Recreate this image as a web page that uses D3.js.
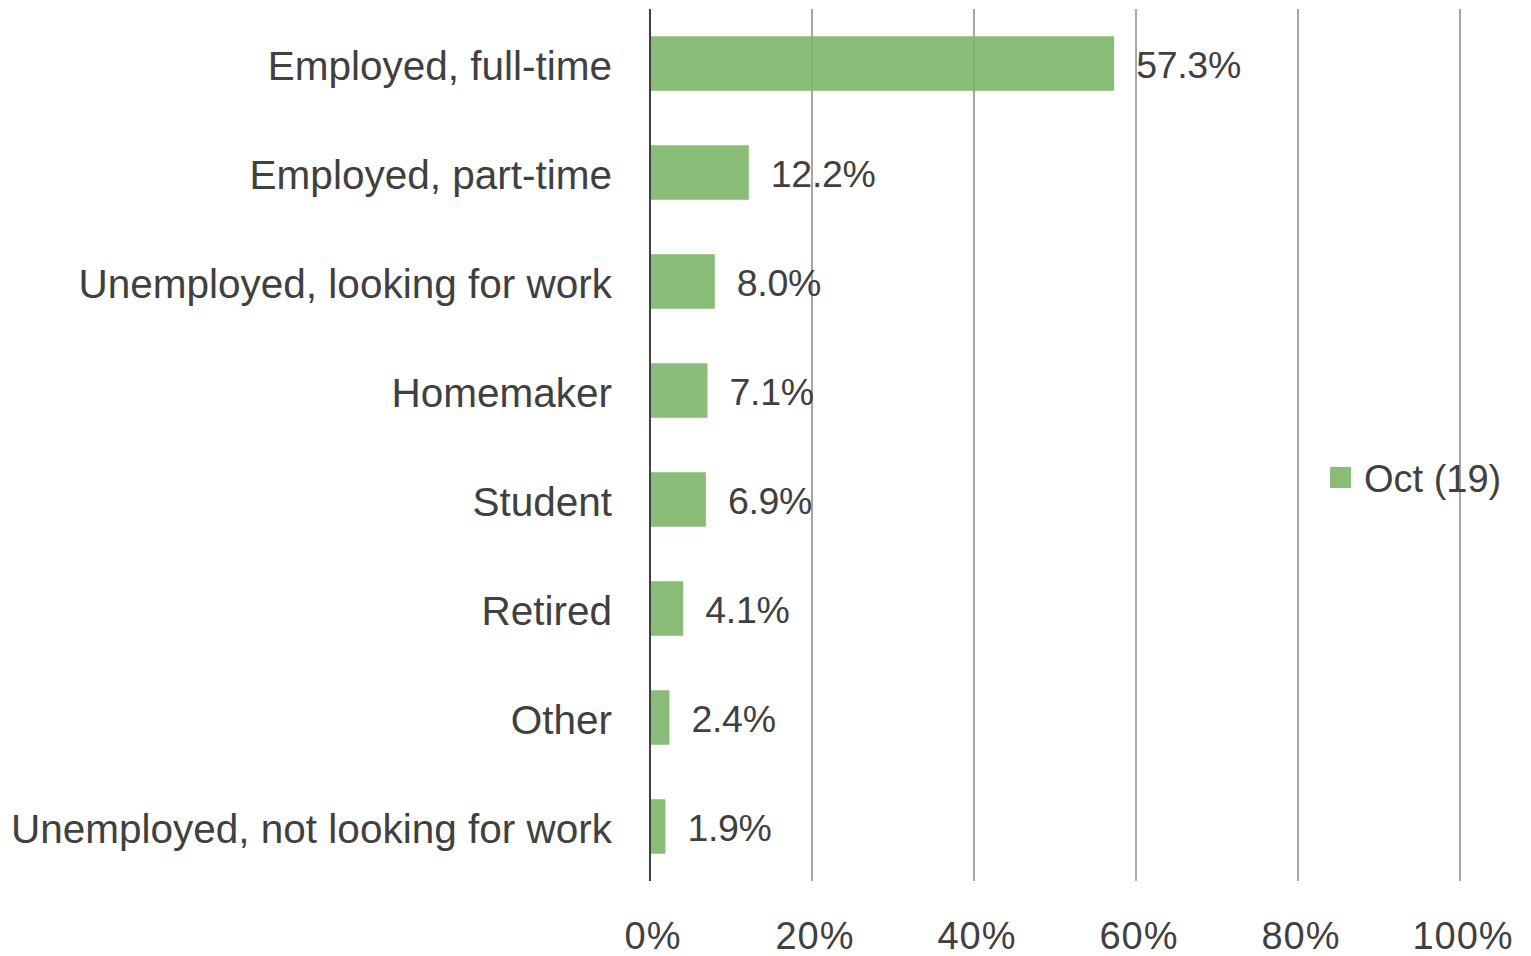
<!DOCTYPE html>
<html>
<head>
<meta charset="utf-8">
<script src="https://cdn.jsdelivr.net/npm/d3@7"></script>
<style>
  body { margin: 0; background: #fff; }
  svg { display: block; font-family: "Liberation Sans", Arial, sans-serif; }
</style>
</head>
<body>
<script>
  const categories = [
    'Employed, full-time',
    'Employed, part-time',
    'Unemployed, looking for work',
    'Homemaker',
    'Student',
    'Retired',
    'Other',
    'Unemployed, not looking for work',
  ];
  const values = [57.3, 12.2, 8.0, 7.1, 6.9, 4.1, 2.4, 1.9];
  const tickValues = [0, 20, 40, 60, 80, 100];
  const seriesName = 'Oct (19)';

  const width = 1531;
  const height = 956;
  const textColor = '#404040';
  const barColor = '#7bb568';

  const svg = d3.select('body').append('svg')
    .attr('width', width)
    .attr('height', height);

  const x = d3.scaleLinear().domain([0, 100]).range([650, 1460]);
  const y = d3.scaleBand().domain(categories).range([9, 881])
    .paddingInner(0.5)
    .paddingOuter(0.25);

  // grid lines
  svg.append('g')
    .selectAll('line')
    .data(tickValues.slice(1))
    .enter()
    .append('line')
    .attr('x1', (d) => x(d)).attr('x2', (d) => x(d))
    .attr('y1', 9).attr('y2', 881)
    .attr('stroke', '#a6a6a6')
    .attr('stroke-width', 2);

  // bars
  svg.append('g')
    .selectAll('rect')
    .data(values)
    .enter()
    .append('rect')
    .attr('x', x(0))
    .attr('y', (d, i) => y(categories[i]))
    .attr('width', (d) => x(d) - x(0))
    .attr('height', y.bandwidth())
    .attr('fill', barColor)
    .attr('fill-opacity', 0.9);

  // axis line
  svg.append('line')
    .attr('x1', x(0)).attr('x2', x(0))
    .attr('y1', 9).attr('y2', 881)
    .attr('stroke', '#404040')
    .attr('stroke-width', 2);

  // category labels
  svg.append('g')
    .selectAll('text')
    .data(categories)
    .enter()
    .append('text')
    .attr('x', 612)
    .attr('y', (d) => y(d) + y.bandwidth() / 2 + 16)
    .attr('text-anchor', 'end')
    .attr('font-size', 40.5)
    .attr('fill', textColor)
    .text((d) => d);

  // value labels
  svg.append('g')
    .selectAll('text')
    .data(values)
    .enter()
    .append('text')
    .attr('x', (d) => x(d) + 22)
    .attr('y', (d, i) => y(categories[i]) + y.bandwidth() / 2 + 14.5)
    .attr('font-size', 37.5)
    .attr('letter-spacing', -0.3)
    .attr('fill', textColor)
    .text((d) => d.toFixed(1) + '%');

  // x tick labels
  svg.append('g')
    .selectAll('text')
    .data(tickValues)
    .enter()
    .append('text')
    .attr('x', (d) => x(d) + 3)
    .attr('y', 949)
    .attr('text-anchor', 'middle')
    .attr('font-size', 38)
    .attr('letter-spacing', 1)
    .attr('fill', textColor)
    .text((d) => d + '%');

  // legend
  const legend = svg.append('g');
  legend.append('rect')
    .attr('x', 1330).attr('y', 467)
    .attr('width', 21).attr('height', 21)
    .attr('fill', barColor)
    .attr('fill-opacity', 0.9);
  legend.append('text')
    .attr('x', 1364).attr('y', 492)
    .attr('font-size', 38)
    .attr('fill', textColor)
    .text(seriesName);
</script>
</body>
</html>
